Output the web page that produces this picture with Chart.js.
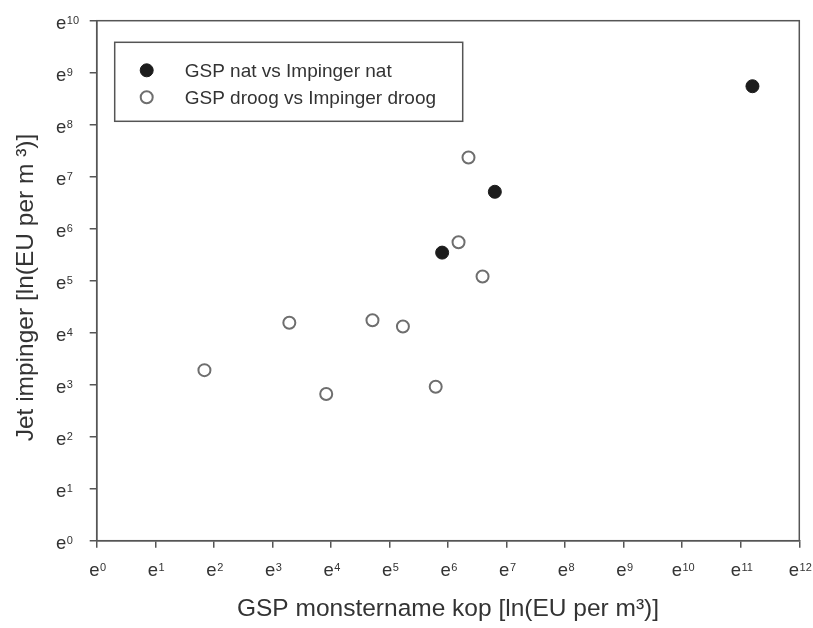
<!DOCTYPE html>
<html>
<head>
<meta charset="utf-8">
<script src="https://cdn.jsdelivr.net/npm/chart.js@4.4.0/dist/chart.umd.min.js"></script>
<style>
  html, body { margin: 0; padding: 0; background: #fff; }
  canvas { display: block; }
</style>
</head>
<body>
<canvas id="chart" width="813" height="628"></canvas>
<script>
"use strict";

// ln(EU per m3) values
const natX = [5.90, 6.80, 11.20];
const natY = [5.54, 6.71, 8.74];
const droogX = [1.84, 3.29, 3.92, 4.71, 5.23, 5.79, 6.18, 6.35, 6.59];
const droogY = [3.28, 4.19, 2.82, 4.24, 4.12, 2.96, 5.74, 7.37, 5.08];

// tick labels are e^n, base and exponent drawn separately
const xTickExp = ["0", "1", "2", "3", "4", "5", "6", "7", "8", "9", "10", "11", "12"];
const yTickExp = ["0", "1", "2", "3", "4", "5", "6", "7", "8", "9", "10"];

const seriesNames = ["GSP nat vs Impinger nat", "GSP droog vs Impinger droog"];

const toPoints = (xs, ys) => xs.map((x, i) => ({ x: x, y: ys[i] }));

const axisColor = "#555";
const textColor = "#333";
const fontFamily = "'Liberation Sans', Arial, sans-serif";

// e with raised exponent, x = left edge, y = baseline
const drawPower = (ctx, exp, x, y) => {
    ctx.font = "18.5px " + fontFamily;
    ctx.fillText("e", x, y);
    const w = ctx.measureText("e").width;
    ctx.font = "11px " + fontFamily;
    ctx.fillText(exp, x + w + 0.5, y - 4.5);
};
const powerWidth = (ctx, exp) => {
    ctx.font = "18.5px " + fontFamily;
    const w = ctx.measureText("e").width;
    ctx.font = "11px " + fontFamily;
    return w + 0.5 + ctx.measureText(exp).width;
};

const framePlugin = {
    id: "frame",
    afterDraw(chart) {
        const ctx = chart.ctx;
        const a = chart.chartArea;
        const xs = chart.scales.x, ys = chart.scales.y;
        ctx.save();
        ctx.strokeStyle = axisColor;
        ctx.lineWidth = 1.5;
        ctx.strokeRect(a.left, a.top, a.right - a.left, a.bottom - a.top);

        // tick labels
        ctx.fillStyle = textColor;
        ctx.textBaseline = "alphabetic";
        ctx.textAlign = "left";
        xs.ticks.forEach((t) => {
            const exp = xTickExp[t.value];
            const px = xs.getPixelForValue(t.value);
            drawPower(ctx, exp, px + 1 - powerWidth(ctx, exp) / 2, a.bottom + 35);
        });
        ys.ticks.forEach((t) => {
            const py = ys.getPixelForValue(t.value);
            drawPower(ctx, yTickExp[t.value], 56, py + 8);
        });

        // legend
        const bx = a.left + 18, by = a.top + 21.6;
        ctx.strokeStyle = axisColor;
        ctx.lineWidth = 1.5;
        ctx.strokeRect(bx, by, 348, 79);
        ctx.font = "19px " + fontFamily;
        ctx.textBaseline = "middle";
        chart.data.datasets.forEach((ds, i) => {
            const cy = by + 28 + i * 27;
            const cx = bx + 32;
            ctx.beginPath();
            ctx.arc(cx, cy, ds.pointRadius, 0, Math.PI * 2);
            ctx.fillStyle = ds.backgroundColor;
            ctx.fill();
            ctx.lineWidth = ds.borderWidth;
            ctx.strokeStyle = ds.borderColor;
            ctx.stroke();
            ctx.fillStyle = textColor;
            ctx.fillText(ds.label, bx + 70, cy + 1);
        });
        ctx.restore();
    }
};

new Chart(document.getElementById("chart"), {
    type: "scatter",
    data: {
        datasets: [
            {
                label: seriesNames[0],
                data: toPoints(natX, natY),
                backgroundColor: "#1c1c1c",
                borderColor: "#1c1c1c",
                borderWidth: 1,
                pointRadius: 6.5
            },
            {
                label: seriesNames[1],
                data: toPoints(droogX, droogY),
                backgroundColor: "#ffffff",
                borderColor: "#6e6e6e",
                borderWidth: 2,
                pointRadius: 6
            }
        ]
    },
    options: {
        responsive: false,
        animation: false,
        layout: { padding: { left: 0, right: 13.7, top: 20.7, bottom: 0 } },
        plugins: {
            legend: { display: false },
            tooltip: { enabled: false }
        },
        scales: {
            x: {
                type: "linear",
                min: 0,
                max: 12,
                afterFit: (scale) => { scale.height = 87.3; },
                border: { color: axisColor, width: 1.5 },
                grid: { drawOnChartArea: false, drawTicks: true, tickLength: 7, color: axisColor, lineWidth: 1.5 },
                ticks: {
                    stepSize: 1,
                    maxRotation: 0,
                    autoSkip: false,
                    callback: () => ""
                },
                title: {
                    display: true,
                    text: "GSP monstername kop [ln(EU per m³)]",
                    color: textColor,
                    font: { family: fontFamily, size: 24.5 },
                    padding: { top: 0, bottom: 4 }
                }
            },
            y: {
                type: "linear",
                min: 0,
                max: 10,
                afterFit: (scale) => { scale.width = 96.7; },
                border: { color: axisColor, width: 1.5 },
                grid: { drawOnChartArea: false, drawTicks: true, tickLength: 7, color: axisColor, lineWidth: 1.5 },
                ticks: {
                    stepSize: 1,
                    autoSkip: false,
                    callback: () => ""
                },
                title: {
                    display: true,
                    text: "Jet impinger [ln(EU per m ³)]  ",
                    color: textColor,
                    font: { family: fontFamily, size: 24.5 },
                    padding: { top: 11.5, bottom: 0 }
                }
            }
        }
    },
    plugins: [framePlugin]
});
</script>
</body>
</html>
